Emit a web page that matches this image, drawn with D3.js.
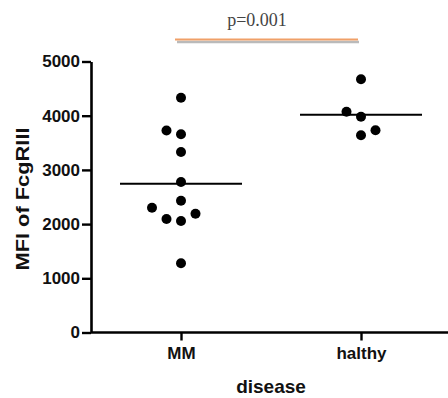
<!DOCTYPE html>
<html>
<head>
<meta charset="utf-8">
<script src="https://cdn.jsdelivr.net/npm/d3@7"></script>
<style>
  html, body { margin: 0; padding: 0; background: #fff; }
  svg { display: block; }
</style>
</head>
<body>
<div id="chart_root"></div>
<script>
const widthValue = 448;
const heightValue = 398;

// data
const groups = ["MM", "halthy"];
const mmValues = [4332, 3727, 3657, 3330, 2777, 2432, 2303, 2094, 2057, 2192, 1277];
const mmSlots = [0, -1, 0, 0, 0, 0, -2, -1, 0, 1, 0];
const healthyValues = [4671, 4074, 3981, 3638, 3731];
const healthySlots = [0, -1, 0, 0, 1];
const yTicks = [0, 1000, 2000, 3000, 4000, 5000];
const pLabel = "p=0.001";

const svg = d3
  .select("#chart_root")
  .append("svg")
  .attr("width", widthValue)
  .attr("height", heightValue);

// scales
const xScale = d3.scalePoint().domain(groups).range([91, 451]).padding(0.5);
const yScale = d3.scaleLinear().domain([0, 5000]).range([332.5, 61.5]);
const jitter = d3.scaleLinear().domain([-1, 1]).range([-14.5, 14.5]);

const sansFont = "'Liberation Sans', Arial, Helvetica, sans-serif";

// Y axis
const yAxis = svg
  .append("g")
  .attr("transform", "translate(91,0)")
  .call(d3.axisLeft(yScale).tickValues(yTicks).tickSize(9).tickSizeOuter(0).tickPadding(2).tickFormat(d3.format("d")));
yAxis.select(".domain").attr("stroke", "#000").attr("stroke-width", 2.6);
yAxis.selectAll(".tick line").attr("stroke", "#000").attr("stroke-width", 2.4);
yAxis
  .selectAll(".tick text")
  .attr("fill", "#111")
  .style("font-family", sansFont)
  .style("font-weight", "bold")
  .style("font-size", "17px");

// X axis
const xAxis = svg
  .append("g")
  .attr("transform", "translate(0,332.5)")
  .call(d3.axisBottom(xScale).tickSize(8).tickSizeOuter(0).tickPadding(6));
xAxis.select(".domain").attr("stroke", "#000").attr("stroke-width", 2.6).attr("d", "M91,0H448");
xAxis.selectAll(".tick line").attr("stroke", "#000").attr("stroke-width", 2.4);
xAxis
  .selectAll(".tick text")
  .attr("fill", "#111")
  .style("font-family", sansFont)
  .style("font-weight", "bold")
  .style("font-size", "17px");

// axis titles
svg
  .append("text")
  .attr("x", 271)
  .attr("y", 393)
  .attr("text-anchor", "middle")
  .style("font-family", sansFont)
  .style("font-weight", "bold")
  .style("font-size", "19px")
  .attr("fill", "#111")
  .text("disease");

svg
  .append("text")
  .attr("transform", "translate(29,199) rotate(-90)")
  .attr("text-anchor", "middle")
  .attr("textLength", 143)
  .attr("lengthAdjust", "spacingAndGlyphs")
  .style("font-family", sansFont)
  .style("font-weight", "bold")
  .style("font-size", "18px")
  .attr("fill", "#111")
  .text("MFI of FcgRIII");

// points + mean lines
const series = [
  { name: "MM", values: mmValues, slots: mmSlots },
  { name: "halthy", values: healthyValues, slots: healthySlots },
];

series.forEach((s) => {
  const cx = xScale(s.name);
  const mean = d3.mean(s.values);
  svg
    .append("line")
    .attr("x1", cx - 61)
    .attr("x2", cx + 61)
    .attr("y1", yScale(mean))
    .attr("y2", yScale(mean))
    .attr("stroke", "#000")
    .attr("stroke-width", 2);

  svg
    .append("g")
    .selectAll("circle")
    .data(s.values)
    .join("circle")
    .attr("cx", (d, i) => cx + jitter(s.slots[i]))
    .attr("cy", (d) => yScale(d))
    .attr("r", 5)
    .attr("fill", "#000");
});

// significance bar
const bar = { x1: xScale("MM") - 6, x2: xScale("halthy") - 3, y: 39.5 };
svg
  .append("line")
  .attr("x1", bar.x1 + 2)
  .attr("x2", bar.x2 + 1)
  .attr("y1", bar.y + 2.5)
  .attr("y2", bar.y + 2.5)
  .attr("stroke", "#a9a9a9")
  .attr("stroke-width", 2.5)
  .attr("opacity", 0.8);
svg
  .append("line")
  .attr("x1", bar.x1)
  .attr("x2", bar.x2)
  .attr("y1", bar.y)
  .attr("y2", bar.y)
  .attr("stroke", "#f0a068")
  .attr("stroke-width", 1.8);

svg
  .append("text")
  .attr("x", 257)
  .attr("y", 26)
  .attr("text-anchor", "middle")
  .style("font-family", "'Liberation Serif', 'Times New Roman', serif")
  .style("font-size", "18px")
  .attr("fill", "#444")
  .text(pLabel);
</script>
</body>
</html>
